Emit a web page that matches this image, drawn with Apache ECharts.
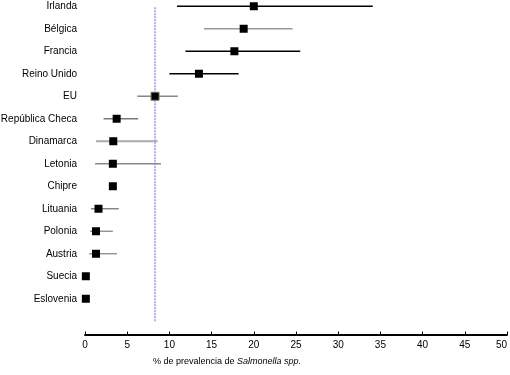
<!DOCTYPE html>
<html>
<head>
<meta charset="utf-8">
<script src="https://cdn.jsdelivr.net/npm/echarts@6/dist/echarts.min.js"></script>
<style>
  html, body { margin: 0; padding: 0; background: #fff; }
  #main { width: 510px; height: 375px; }
</style>
</head>
<body>
<div id="main"></div>
<script>
// países (de arriba a abajo), la última fila vacía deja el hueco sobre el eje
var countries = ['Irlanda', 'Bélgica', 'Francia', 'Reino Unido', 'EU', 'República Checa',
  'Dinamarca', 'Letonia', 'Chipre', 'Lituania', 'Polonia', 'Austria', 'Suecia', 'Eslovenia', '']
// prevalencia estimada y su intervalo (null = sin intervalo)
var prevalence = [20.0, 18.8, 17.7, 13.5, 8.3, 3.75, 3.35, 3.3, 3.3, 1.6, 1.3, 1.3, 0.1, 0.1]
var lower = [10.9, 14.1, 11.9, 10.0, 6.2, 2.2, 1.3, 1.2, null, 0.7, 0.6, 0.5, null, null]
var upper = [34.1, 24.6, 25.5, 18.2, 11.0, 6.3, 8.6, 9.0, null, 4.0, 3.3, 3.8, null, null]
var euValue = 8.3
var xTicks = [0, 5, 10, 15, 20, 25, 30, 35, 40, 45, 50]

// color de cada barra de error
var barColors = ['#000', '#999', '#000', '#000', '#888', '#777', '#aaa', '#888', '#000', '#777', '#888', '#888', '#000', '#000']

var pointData = prevalence.map(function (v, i) {
  var item = { value: [v, i] }
  if (countries[i] === 'EU') item.itemStyle = { borderColor: '#777', borderWidth: 1 }
  return item
})
var ciData = []
lower.forEach(function (lo, i) {
  if (lo !== null) ciData.push([lo, upper[i], i])
})

var myChart = echarts.init(document.getElementById('main'))
myChart.setOption({
  animation: false,
  grid: { left: 85, right: 3, top: -5, bottom: 42.5, containLabel: false, outerBoundsMode: 'none' },
  xAxis: {
    type: 'value',
    min: 0,
    max: 50,
    interval: 5,
    offset: 2,
    splitLine: { show: false },
    axisLine: { show: true, lineStyle: { color: '#000', width: 2 } },
    axisTick: { show: true, inside: true, length: 3, lineStyle: { color: '#000', width: 1 } },
    axisLabel: {
      color: '#000', fontFamily: 'Liberation Sans', fontSize: 10, margin: 6,
      alignMaxLabel: 'right',
      formatter: function (v) { return xTicks.indexOf(v) >= 0 ? String(v) : '' }
    }
  },
  yAxis: {
    type: 'category',
    data: countries,
    inverse: true,
    axisLine: { show: false },
    axisTick: { show: false },
    splitLine: { show: false },
    axisLabel: { color: '#000', fontFamily: 'Liberation Sans', fontSize: 10, margin: 8 }
  },
  graphic: [{
    type: 'text',
    left: 153,
    top: 357,
    style: {
      text: '{a|% de prevalencia de }{b|Salmonella spp.}',
      rich: {
        a: { fontFamily: 'Liberation Sans', fontSize: 9, fill: '#000' },
        b: { fontFamily: 'Liberation Sans', fontSize: 9, fontStyle: 'italic', fill: '#000' }
      }
    }
  }],
  series: [
    {
      // línea de referencia de la UE
      type: 'custom',
      data: [[euValue]],
      z: 1,
      renderItem: function (params, api) {
        var top = api.coord([api.value(0), 0])
        var bottom = api.coord([api.value(0), countries.length - 1])
        return {
          type: 'line',
          shape: { x1: top[0], y1: top[1] + 1, x2: bottom[0], y2: bottom[1] },
          style: { stroke: '#b0b0f2', lineWidth: 2, lineDash: [2, 1] }
        }
      }
    },
    {
      // intervalos
      type: 'custom',
      data: ciData,
      z: 2,
      renderItem: function (params, api) {
        var i = api.value(2)
        var a = api.coord([api.value(0), i])
        var b = api.coord([api.value(1), i])
        return {
          type: 'line',
          shape: { x1: a[0], y1: a[1], x2: b[0], y2: b[1] },
          style: { stroke: barColors[i], lineWidth: i === 6 ? 2 : 1.3 }
        }
      }
    },
    {
      type: 'scatter',
      data: pointData,
      symbol: 'rect',
      symbolSize: 8,
      z: 3,
      itemStyle: { color: '#000', opacity: 1 }
    }
  ]
})
</script>
</body>
</html>
